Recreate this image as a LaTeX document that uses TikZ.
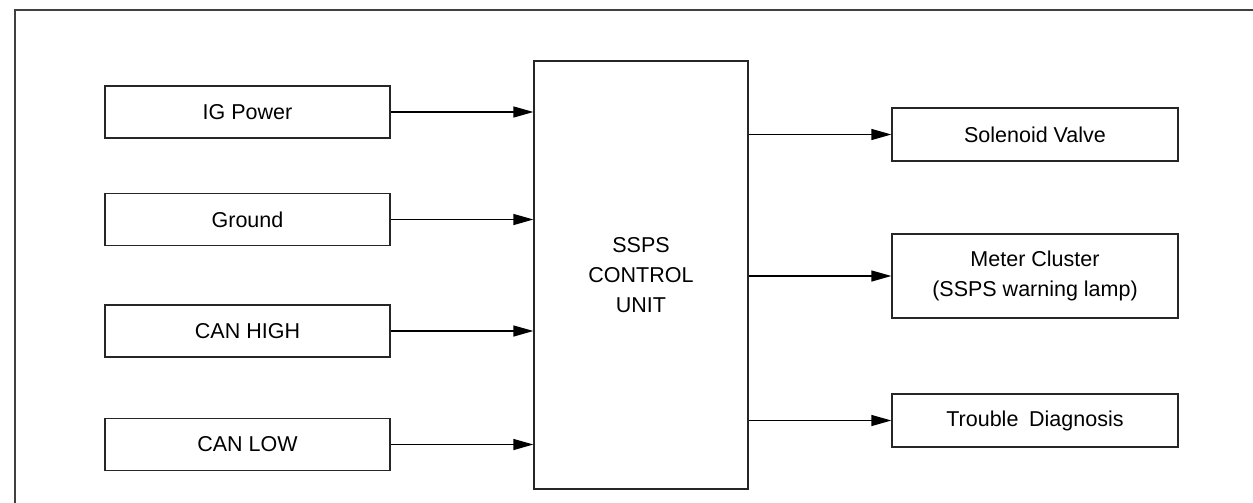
\documentclass[tikz,border=0pt]{standalone}
\usepackage{fontspec}
\setmainfont{Liberation Sans}
\usetikzlibrary{arrows.meta}
\tikzset{
  blk/.style={draw=black!85, line width=1.3pt, fill=white, inner sep=0pt, align=center,
     font=\fontsize{21.5}{30}\selectfont},
  conn/.style={line width=1.3pt, -{Triangle[length=20pt,width=11pt]}},
  frame/.style={draw=black!75, line width=1.5pt}
}
\begin{document}
\begin{tikzpicture}[x=1pt,y=-1pt]
\useasboundingbox (0,0) rectangle (1253,503);
\draw[frame] (15,503) -- (15,10) -- (1253,10);
% left boxes
\node[blk, minimum width=285pt, minimum height=52pt] (ig)  at (247.5,112) {IG Power};
\node[blk, minimum width=285pt, minimum height=52pt] (gnd) at (247.5,219.5) {Ground};
\node[blk, minimum width=285pt, minimum height=52pt] (ch)  at (247.5,331) {CAN HIGH};
\node[blk, minimum width=285pt, minimum height=52pt] (cl)  at (247.5,444.5) {CAN LOW};
% center
\node[blk, minimum width=214pt, minimum height=428pt] (cu) at (641,275) {SSPS\\CONTROL\\UNIT};
% right boxes
\node[blk, minimum width=286pt, minimum height=53pt] (sv) at (1035,134.5) {Solenoid Valve};
\node[blk, minimum width=286pt, minimum height=84pt] (mc) at (1035,276) {Meter Cluster\\(SSPS warning lamp)};
\node[blk, minimum width=286pt, minimum height=53pt] (td) at (1035,420.5) {Trouble\hspace{0.5em}Diagnosis};
% connectors
\draw[conn] (ig.east) -- (ig.east -| cu.west);
\draw[conn] (gnd.east) -- (gnd.east -| cu.west);
\draw[conn] (ch.east) -- (ch.east -| cu.west);
\draw[conn] (cl.east) -- (cl.east -| cu.west);
\draw[conn] (sv.west -| cu.east) -- (sv.west);
\draw[conn] (mc.west -| cu.east) -- (mc.west);
\draw[conn] (td.west -| cu.east) -- (td.west);
\end{tikzpicture}
\end{document}
